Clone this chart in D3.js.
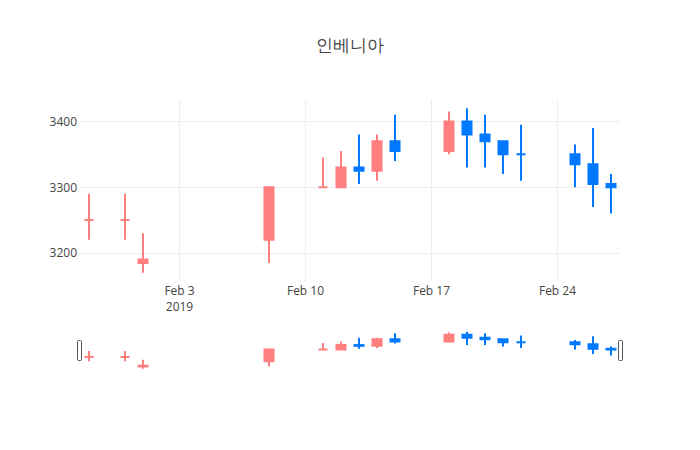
<!DOCTYPE html>
<html>
<head>
<meta charset="utf-8">
<script src="https://cdn.jsdelivr.net/npm/d3@7"></script>
<style>
  html, body { margin: 0; padding: 0; background: #fff; }
  text { font-family: "Open Sans", "Noto Sans", sans-serif; }
</style>
</head>
<body>
<svg id="chart" width="700" height="450"></svg>
<script>
// ---- data ----
const title = "인베니아";
const dates = ["2019-01-29","2019-01-31","2019-02-01","2019-02-08","2019-02-11","2019-02-12","2019-02-13",
               "2019-02-14","2019-02-15","2019-02-18","2019-02-19","2019-02-20","2019-02-21","2019-02-22",
               "2019-02-25","2019-02-26","2019-02-27"];
const opens  = [3250,3250,3185,3220,3300,3300,3330,3325,3370,3355,3400,3380,3370,3350,3350,3335,3305];
const highs  = [3290,3290,3230,3300,3345,3355,3380,3380,3410,3415,3420,3410,3370,3395,3365,3390,3320];
const lows   = [3220,3220,3170,3185,3300,3300,3305,3310,3340,3350,3330,3330,3320,3310,3300,3270,3260];
const closes = [3250,3250,3190,3300,3300,3330,3325,3370,3355,3400,3380,3370,3350,3350,3335,3305,3300];
const yTicks = [3200, 3300, 3400];
const xTickDates  = ["2019-02-03","2019-02-10","2019-02-17","2019-02-24"];
const xTickLabels = ["Feb 3","Feb 10","Feb 17","Feb 24"];
const xTickSub    = ["2019","","",""];

// ---- styles ----
const incColor = "#ff7f7f";
const decColor = "#0078ff";
const gridColor = "#eeeeee";
const textColor = "#444444";
const plot = {left: 80, right: 620, top: 100, bottom: 281};
const slider = {top: 330, bottom: 370.5};

const parse = d3.utcParse("%Y-%m-%d");
const DAY = 864e5;
const xs = dates.map(parse);

// increasing flag (plotly rule: equal open/close keeps or compares with previous close)
let inc = true, cPrev = null;
const rows = dates.map((d, i) => {
  const o = opens[i], c = closes[i];
  if (c === o) { if (cPrev !== null && c !== cPrev) inc = c > cPrev; }
  else inc = c > o;
  cPrev = c;
  return {x: xs[i], o, h: highs[i], l: lows[i], c, inc};
});

const svg = d3.select("#chart");
svg.append("rect").attr("width", 700).attr("height", 450).attr("fill", "#fff");

const x = d3.scaleUtc()
  .domain([new Date(+d3.min(xs) - DAY / 2), new Date(+d3.max(xs) + DAY / 2)])
  .range([plot.left, plot.right]);

const yMin = d3.min(lows), yMax = d3.max(highs), pad = (yMax - yMin) * 0.05;
const y = d3.scaleLinear().domain([yMin - pad, yMax + pad]).range([plot.bottom, plot.top]);
const ys = d3.scaleLinear().domain([yMin - pad, yMax + pad]).range([slider.bottom, slider.top]);

// grid
const gGrid = svg.append("g");
gGrid.selectAll("line.h").data(yTicks).join("line")
  .attr("x1", plot.left).attr("x2", plot.right)
  .attr("y1", d => Math.round(y(d)) + 0.5).attr("y2", d => Math.round(y(d)) + 0.5)
  .attr("stroke", gridColor).attr("stroke-width", 1);
gGrid.selectAll("line.v").data(xTickDates.map(parse)).join("line")
  .attr("x1", d => Math.round(x(d)) + 0.5).attr("x2", d => Math.round(x(d)) + 0.5)
  .attr("y1", plot.top).attr("y2", plot.bottom)
  .attr("stroke", gridColor).attr("stroke-width", 1);

// axes (labels only)
const yAxis = d3.axisLeft(y).tickValues(yTicks).tickSize(0).tickPadding(3).tickFormat(d3.format("d"));
const gy = svg.append("g").attr("transform", `translate(${plot.left},0)`).call(yAxis);
gy.select(".domain").remove();
gy.selectAll("text").attr("font-size", 12).attr("fill", textColor)
  .attr("font-family", "'Open Sans', sans-serif");

const xAxis = d3.axisBottom(x).tickValues(xTickDates.map(parse)).tickSize(0).tickPadding(0)
  .tickFormat((d, i) => xTickLabels[i]);
const gx = svg.append("g").attr("transform", `translate(0,${plot.bottom})`).call(xAxis);
gx.select(".domain").remove();
gx.selectAll(".tick text").attr("font-size", 12).attr("fill", textColor)
  .attr("font-family", "'Open Sans', sans-serif").attr("dy", null).attr("y", 13.5)
  .each(function (d, i) {
    if (xTickSub[i]) {
      d3.select(this.parentNode).append("text")
        .attr("y", 30).attr("text-anchor", "middle").attr("font-size", 12)
        .attr("fill", textColor).attr("font-family", "'Open Sans', sans-serif")
        .text(xTickSub[i]);
    }
  });

// candles
const halfW = DAY * 0.25;
function drawCandles(g, yScale) {
  const c = g.selectAll("g.c").data(rows).join("g").attr("class", "c");
  c.append("line")
    .attr("x1", d => x(d.x)).attr("x2", d => x(d.x))
    .attr("y1", d => yScale(d.h)).attr("y2", d => yScale(d.l))
    .attr("stroke", d => d.inc ? incColor : decColor).attr("stroke-width", 2);
  c.append("path")
    .attr("d", d => {
      const x0 = x(new Date(+d.x - halfW)), x1 = x(new Date(+d.x + halfW));
      const yt = yScale(Math.max(d.o, d.c)), yb = yScale(Math.min(d.o, d.c));
      return `M${x0},${yt}H${x1}V${yb}H${x0}Z`;
    })
    .attr("fill", d => d.inc ? incColor : decColor)
    .attr("stroke", d => d.inc ? incColor : decColor).attr("stroke-width", 2);
}
drawCandles(svg.append("g"), y);

// range slider
svg.append("rect").attr("x", plot.left).attr("y", slider.top)
  .attr("width", plot.right - plot.left).attr("height", slider.bottom - slider.top)
  .attr("fill", "#fff");
drawCandles(svg.append("g"), ys);
const hh = Math.round((slider.bottom - slider.top) / 2);
const hy = slider.top + Math.round((slider.bottom - slider.top) / 4);
[plot.left - 2.5, plot.right - 1.5].forEach(hx => {
  svg.append("rect").attr("x", hx).attr("y", hy + 0.5).attr("width", 4).attr("height", hh)
    .attr("rx", 1).attr("fill", "#fff").attr("stroke", "#555").attr("stroke-width", 1);
});

// title
svg.append("text").attr("x", 350).attr("y", 51).attr("text-anchor", "middle")
  .attr("font-size", 17).attr("fill", textColor)
  .attr("font-family", "'Noto Sans CJK KR', 'Open Sans', sans-serif")
  .text(title);
</script>
</body>
</html>
